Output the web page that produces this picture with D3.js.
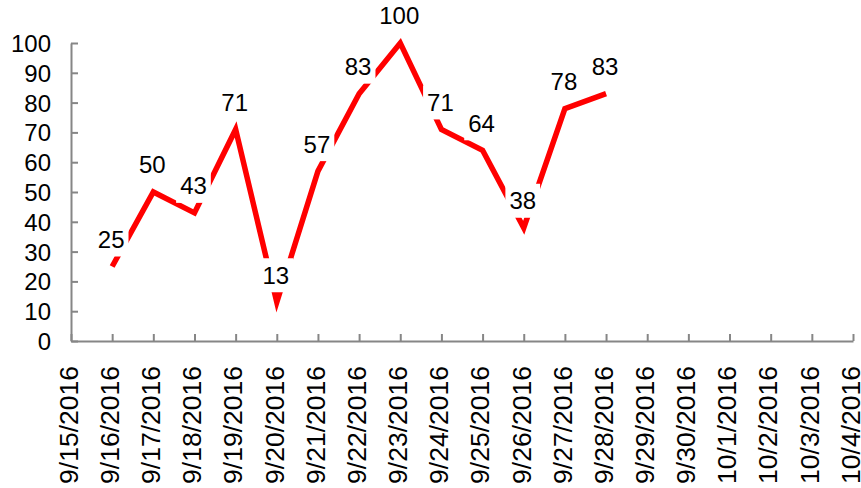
<!DOCTYPE html>
<html>
<head>
<meta charset="utf-8">
<script src="https://cdn.jsdelivr.net/npm/d3@7"></script>
<style>
  html, body { margin: 0; padding: 0; background: #fff; }
  svg { display: block; }
  text { font-family: "Liberation Sans", Arial, sans-serif; fill: #000; }
</style>
</head>
<body>
<svg id="chart" width="861" height="488"></svg>
<script>
// Daily readings, 9/15/2016 – 10/4/2016
const dates = ["9/15/2016", "9/16/2016", "9/17/2016", "9/18/2016", "9/19/2016",
  "9/20/2016", "9/21/2016", "9/22/2016", "9/23/2016", "9/24/2016", "9/25/2016",
  "9/26/2016", "9/27/2016", "9/28/2016", "9/29/2016", "9/30/2016", "10/1/2016",
  "10/2/2016", "10/3/2016", "10/4/2016"];
const values = [null, 25, 50, 43, 71, 13, 57, 83, 100, 71, 64, 38, 78, 83,
  null, null, null, null, null, null];
const yTicks = [0, 10, 20, 30, 40, 50, 60, 70, 80, 90, 100];

const svg = d3.select("#chart");
const axisColor = "#868686";

const x = d3.scalePoint().domain(dates).range([71, 853]);
const y = d3.scaleLinear().domain([0, 100]).range([341, 43]);

const points = dates.map((d, i) => ({ date: d, value: values[i] }))
  .filter(p => p.value !== null);

// Y axis, ticks pointing into the plot
const yAxis = svg.append("g")
  .attr("transform", `translate(${x.range()[0]},0)`)
  .call(d3.axisLeft(y).tickValues(yTicks).tickSizeInner(-7).tickSizeOuter(0).tickPadding(20));

// X axis, ticks pointing up, rotated date labels
const xAxis = svg.append("g")
  .attr("transform", `translate(0,${y(0)})`)
  .call(d3.axisBottom(x).tickSizeInner(-7).tickSizeOuter(0));

[yAxis, xAxis].forEach(g => {
  g.attr("font-family", null).attr("font-size", null);
  g.select(".domain").attr("stroke", axisColor).attr("stroke-width", 2);
  g.selectAll(".tick line").attr("stroke", axisColor).attr("stroke-width", 2);
});
yAxis.selectAll(".tick text").style("font-size", "24px").attr("dy", "0.35em");
xAxis.selectAll(".tick text")
  .style("font-size", "26.5px")
  .attr("transform", "rotate(-90)")
  .attr("text-anchor", "end")
  .attr("x", -25)
  .attr("y", -3)
  .attr("dy", "0.35em");

// Series line
const line = d3.line()
  .x(d => x(d.date))
  .y(d => y(d.value));

svg.append("path")
  .datum(points)
  .attr("fill", "none")
  .attr("stroke", "#ff0000")
  .attr("stroke-width", 5.5)
  .attr("stroke-linejoin", "miter")
  .attr("d", line);

// Value labels above each point, on a white box
const labels = svg.append("g").selectAll("g")
  .data(points)
  .join("g")
  .attr("transform", d => `translate(${x(d.date) - 1},${y(d.value) - 27})`);

labels.append("text")
  .attr("text-anchor", "middle")
  .attr("dy", "0.35em")
  .style("font-size", "24px")
  .text(d => d.value);

labels.each(function () {
  const g = d3.select(this);
  const b = g.select("text").node().getBBox();
  g.insert("rect", "text")
    .attr("x", b.x - 4)
    .attr("y", -17)
    .attr("width", b.width + 8)
    .attr("height", 34)
    .attr("fill", "#fff");
});
</script>
</body>
</html>
